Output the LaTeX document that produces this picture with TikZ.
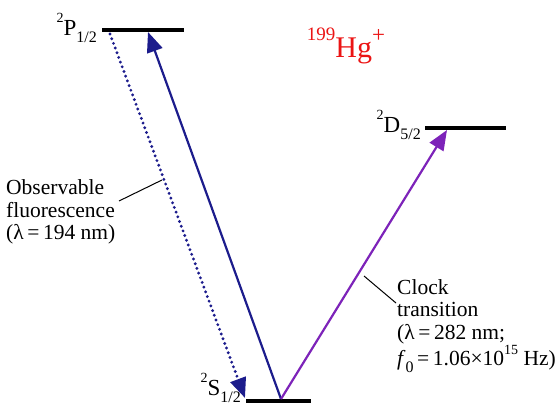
\documentclass[tikz,border=0pt]{standalone}
\usepackage{fontspec}
\setmainfont{Liberation Serif}
\usetikzlibrary{arrows.meta}
\definecolor{tblue}{RGB}{28,28,140}
\definecolor{tpurple}{RGB}{125,35,185}
\definecolor{tred}{RGB}{235,20,20}
\newcommand{\lsup}[1]{\raisebox{0.55em}{\fontsize{14}{14}\selectfont #1}}
\newcommand{\lsub}[1]{\raisebox{-0.3em}{\fontsize{16}{16}\selectfont #1}}
\tikzset{
  level/.style={line width=4pt},
  lvllabel/.style={anchor=east,inner sep=0pt,font=\fontsize{23}{23}\selectfont},
  trans/.style={line width=2.2pt,-{Triangle[length=20pt,width=16pt]}},
  dotarrow/.style={line width=3.2pt,dash pattern=on 0pt off 5pt,line cap=round,
     -{Triangle[length=20pt,width=16pt,line cap=butt]}},
  caption/.style={align=left,inner sep=0pt,font=\fontsize{21.5}{22.5}\selectfont},
  leader/.style={line width=1pt}
}
\begin{document}
\begin{tikzpicture}[x=1pt,y=-1pt]
\useasboundingbox (0,0) rectangle (558,406);
% levels
\coordinate (P1) at (102,30);  \coordinate (P2) at (184,30);
\coordinate (D1) at (425,128); \coordinate (D2) at (506,128);
\coordinate (S1) at (246,401); \coordinate (S2) at (311,401);
\draw[level] (P1) -- (P2);
\draw[level] (D1) -- (D2);
\draw[level] (S1) -- (S2);
\node[lvllabel] (Plab) at (97,28) {\lsup{2}P\lsub{1/2}};
\node[lvllabel] (Dlab) at (421,125) {\lsup{2}D\lsub{5/2}};
\node[lvllabel] (Slab) at (241,388) {\lsup{2}S\lsub{1/2}};
\node[text=tred,inner sep=0pt,font=\fontsize{30}{30}\selectfont] (hg) at (346,46) {\lsup{\fontsize{19}{19}\selectfont 199}Hg\raisebox{0.5em}{\fontsize{23}{23}\selectfont +}};
% transitions
\coordinate (Sstart) at (281,399);
\coordinate (Ptip) at (148,32);
\coordinate (Dtip) at (447,130);
\coordinate (Pdot) at (110,34);
\coordinate (Sdot) at (245,398);
\draw[trans,tblue] (Sstart) -- (Ptip);
\draw[trans,tpurple] (Sstart) -- (Dtip);
\draw[dotarrow,tblue] (Pdot) -- (Sdot);
% captions
\node[caption,anchor=west] (obs) at (6,212) {Observable\\fluorescence\\(λ\,=\,194 nm)};
\node[caption,anchor=west] (clk) at (397,326) {Clock\\transition\\(λ\,=\,282 nm;\\\textit{f}\lsub{0}\,=\,1.06×10\lsup{15} Hz)};
\coordinate (obsA) at (119,201);
\coordinate (obsB) at (162,180);
\coordinate (clkA) at (364,276);
\coordinate (clkB) at (396,303);
\draw[leader] (obsA) -- (obsB);
\draw[leader] (clkA) -- (clkB);
\end{tikzpicture}
\end{document}
